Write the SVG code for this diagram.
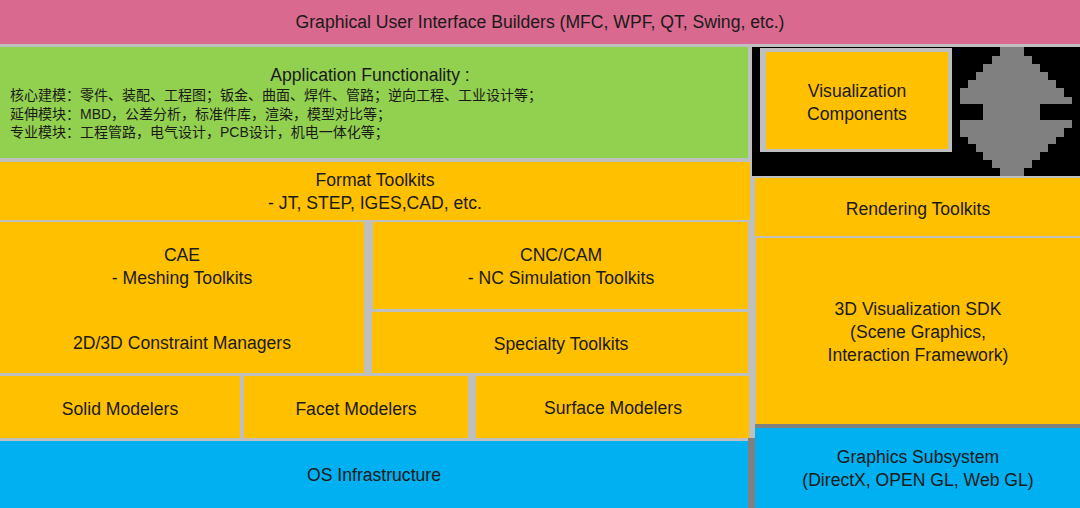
<svg xmlns="http://www.w3.org/2000/svg" width="1080" height="508" viewBox="0 0 1080 508">
<style>
text{font-family:"Liberation Sans",Arial,"Noto Sans CJK SC",sans-serif;font-size:17.6px;fill:#1a1a1a;text-anchor:middle}
.cn{font-size:14px;text-anchor:start}
.org{fill:#FFC000}
.blu{fill:#00B0F0}
</style>
<rect x="0" y="0" width="1080" height="508" fill="#BFBFBF"/>
<g id="gui">
<rect x="0" y="0" width="1080" height="44" fill="#D9698F"/>
<text x="540" y="28">Graphical User Interface Builders (MFC, WPF, QT, Swing, etc.)</text>
</g>
<g id="app">
<rect x="0" y="47" width="748" height="111" fill="#92D050"/>
<text x="370" y="81">Application Functionality :</text>
<text class="cn" x="10" y="100">核心建模：零件、装配、工程图；钣金、曲面、焊件、管路；逆向工程、工业设计等；</text>
<text class="cn" x="10" y="119">延伸模块：MBD，公差分析，标准件库，渲染，模型对比等；</text>
<text class="cn" x="10" y="137">专业模块：工程管路，电气设计，PCB设计，机电一体化等；</text>
</g>
<g id="format">
<rect class="org" x="0" y="162" width="750" height="58"/>
<text x="375" y="186">Format Toolkits</text>
<text x="375" y="209">- JT, STEP, IGES,CAD, etc.</text>
</g>
<g id="cae">
<rect class="org" x="0" y="222" width="364" height="151"/>
<text x="182" y="261">CAE</text>
<text x="182" y="284">- Meshing Toolkits</text>
<text x="182" y="349">2D/3D Constraint Managers</text>
</g>
<g id="cnc">
<rect class="org" x="373" y="222" width="375" height="87"/>
<text x="561" y="261">CNC/CAM</text>
<text x="561" y="284">- NC Simulation Toolkits</text>
</g>
<g id="specialty">
<rect class="org" x="372" y="312" width="376" height="61"/>
<text x="561" y="350">Specialty Toolkits</text>
</g>
<g id="solid">
<rect class="org" x="0" y="376" width="240" height="62"/>
<text x="120" y="415">Solid Modelers</text>
</g>
<g id="facet">
<rect class="org" x="244" y="376" width="224" height="62"/>
<text x="356" y="415">Facet Modelers</text>
</g>
<g id="surface">
<rect class="org" x="476" y="376" width="273" height="62"/>
<text x="613" y="414">Surface Modelers</text>
</g>
<g id="os">
<rect class="blu" x="0" y="441" width="748" height="67"/>
<text x="374" y="481">OS Infrastructure</text>
</g>
<g id="viz-area">
<rect x="752" y="47" width="328" height="129" fill="#000000"/>
</g>
<g id="viz">
<rect x="760" y="48" width="192" height="104" fill="#BFBFBF"/>
<rect class="org" x="766" y="52" width="182" height="97"/>
<text x="857" y="97">Visualization</text>
<text x="857" y="120">Components</text>
</g>
<g id="rendering">
<rect class="org" x="755" y="178" width="325" height="58"/>
<text x="918" y="215">Rendering Toolkits</text>
</g>
<g id="sdk">
<rect class="org" x="756" y="238" width="324" height="186"/>
<text x="918" y="315">3D Visualization SDK</text>
<text x="918" y="338">(Scene Graphics,</text>
<text x="918" y="361">Interaction Framework)</text>
</g>
<g id="graphics">
<rect x="755" y="424" width="325" height="84" fill="#808080"/>
<rect x="748" y="438" width="7" height="70" fill="#808080"/>
<rect class="blu" x="755" y="428" width="325" height="80"/>
<text x="918" y="463">Graphics Subsystem</text>
<text x="918" y="486">(DirectX, OPEN GL, Web GL)</text>
</g>
<g id="connectors">
<polygon fill="#808080" points="1000,47 1024,47 1024,56 1032,56 1032,64 1040,64 1040,72 1048,72 1048,80 1056,80 1056,88 1064,88 1064,97 1072,97 1072,104 1040,104 1040,120 1072,120 1072,128 1064,128 1064,137 1056,137 1056,144 1048,144 1048,152 1040,152 1040,160 1032,160 1032,168 1024,168 1024,176 1000,176 1000,168 992,168 992,160 983,160 983,152 976,152 976,144 968,144 968,137 960,137 960,120 983,120 983,104 960,104 960,88 968,88 968,80 976,80 976,72 983,72 983,64 992,64 992,56 1000,56"/>
</g>
</svg>
